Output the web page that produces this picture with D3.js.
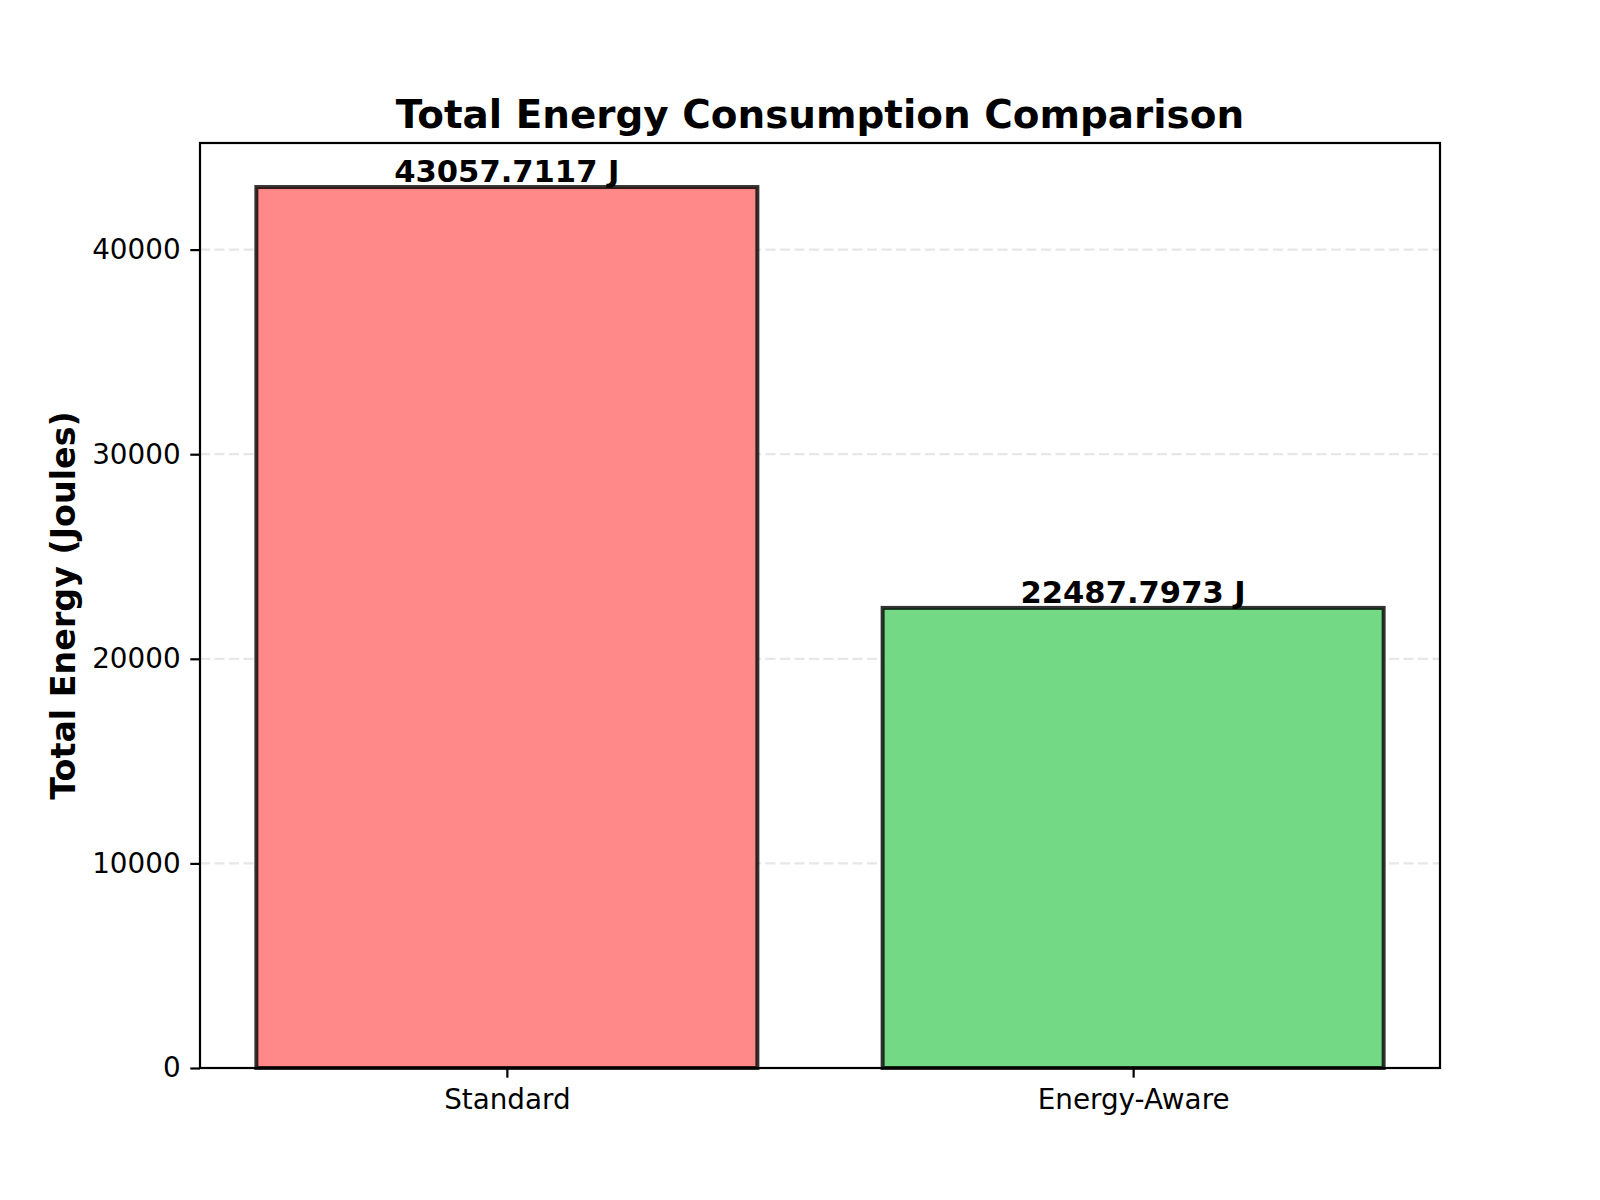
<!DOCTYPE html>
<meta charset="utf-8">
<style>
  body { margin: 0; background: #fff; }
  svg text { font-family: "DejaVu Sans", sans-serif; }
</style>
<div id="chart"></div>
<script src="https://d3js.org/d3.v7.min.js"></script>
<script>
var categories = ["Standard", "Energy-Aware"];
var energy = [43057.7117, 22487.7973];
var barColors = ["#ff8989", "#74d985"];
var yTicks = [0, 10000, 20000, 30000, 40000];

var W = 1600, H = 1200,
    margin = {top: 143, right: 160, bottom: 132, left: 200},
    width = W - margin.left - margin.right,
    height = H - margin.top - margin.bottom;

var svg = d3.select("#chart").append("svg").attr("width", W).attr("height", H),
    g = svg.append("g").attr("transform", "translate(" + margin.left + "," + margin.top + ")");

// matplotlib-like: bar centres at 0,1 with width 0.8, 5% margins
var x = d3.scaleLinear().domain([-0.49, 1.49]).range([0, width]);
var y = d3.scaleLinear().domain([0, d3.max(energy) * 1.05]).range([height, 0]);

// grid
g.selectAll(".grid")
    .data(yTicks.slice(1))
  .enter().append("line")
    .attr("x1", 0).attr("x2", width)
    .attr("y1", function(d) { return y(d); })
    .attr("y2", function(d) { return y(d); })
    .attr("stroke", "#b0b0b0")
    .attr("stroke-opacity", 0.3)
    .attr("stroke-width", 2.2)
    .attr("stroke-dasharray", "10,4.5");

// bars
g.selectAll(".bar")
    .data(energy)
  .enter().append("rect")
    .attr("x", function(d, i) { return x(i - 0.4); })
    .attr("width", function(d, i) { return x(i + 0.4) - x(i - 0.4); })
    .attr("y", function(d) { return y(d); })
    .attr("height", function(d) { return y(0) - y(d); })
    .attr("fill", function(d, i) { return barColors[i]; })
    .attr("stroke", "#000")
    .attr("stroke-opacity", 0.8)
    .attr("stroke-width", 4);

// value labels
g.selectAll(".val")
    .data(energy)
  .enter().append("text")
    .attr("x", function(d, i) { return x(i); })
    .attr("y", function(d) { return y(d) - 5; })
    .attr("text-anchor", "middle")
    .attr("font-size", "30.6px")
    .attr("font-weight", "bold")
    .text(function(d) { return d.toFixed(4) + " J"; });

// axes frame
g.append("rect")
    .attr("width", width).attr("height", height)
    .attr("fill", "none").attr("stroke", "#000").attr("stroke-width", 2.2);

var yAxis = g.append("g")
    .call(d3.axisLeft(y).tickValues(yTicks).tickSize(9.7).tickPadding(9.7).tickFormat(d3.format("d")));
yAxis.select(".domain").remove();
yAxis.selectAll("line").attr("stroke-width", 2.2);
yAxis.selectAll("text").attr("font-size", "27.8px").attr("font-family", "DejaVu Sans").attr("fill", "#000");

var xAxis = g.append("g")
    .attr("transform", "translate(0," + height + ")")
    .call(d3.axisBottom(x).tickValues([0, 1]).tickSize(9.7).tickPadding(11.5)
        .tickFormat(function(d) { return categories[d]; }));
xAxis.select(".domain").remove();
xAxis.selectAll("line").attr("stroke-width", 2.2);
xAxis.selectAll("text").attr("font-size", "27.8px").attr("font-family", "DejaVu Sans").attr("fill", "#000");

// title
svg.append("text")
    .attr("x", margin.left + width / 2)
    .attr("y", margin.top - 15)
    .attr("text-anchor", "middle")
    .attr("font-size", "38.9px")
    .attr("font-weight", "bold")
    .text("Total Energy Consumption Comparison");

// y label
svg.append("text")
    .attr("transform", "translate(75," + (margin.top + height / 2) + ") rotate(-90)")
    .attr("text-anchor", "middle")
    .attr("font-size", "33.3px")
    .attr("font-weight", "bold")
    .text("Total Energy (Joules)");
</script>
